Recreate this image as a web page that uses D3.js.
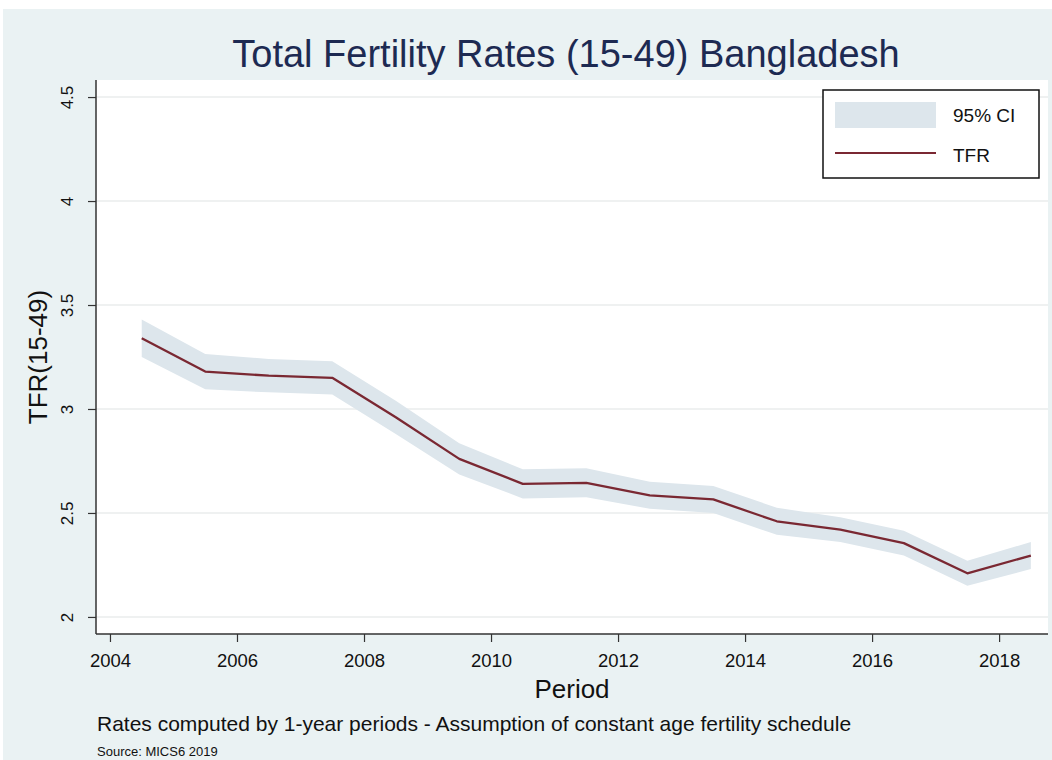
<!DOCTYPE html>
<html>
<head>
<meta charset="utf-8">
<script src="https://cdn.jsdelivr.net/npm/d3@7"></script>
<style>
  html, body { margin: 0; padding: 0; background: #ffffff; }
  svg { display: block; font-family: "Liberation Sans", Arial, Helvetica, sans-serif; }
</style>
</head>
<body>
<svg id="chart" width="1052" height="760"></svg>
<script>
// Period midpoints (1-year periods)
const periods = [2004.5, 2005.5, 2006.5, 2007.5, 2008.5, 2009.5, 2010.5, 2011.5,
                 2012.5, 2013.5, 2014.5, 2015.5, 2016.5, 2017.5, 2018.5];
// Total fertility rate estimates
const tfr   = [3.34, 3.18, 3.16, 3.15, 2.96, 2.76, 2.64, 2.645, 2.585, 2.565, 2.46, 2.42, 2.355, 2.21, 2.295];
// 95% confidence interval bounds
const ciLow = [3.25, 3.095, 3.08, 3.07, 2.88, 2.685, 2.57, 2.575, 2.52, 2.5, 2.395, 2.36, 2.295, 2.15, 2.23];
const ciHigh= [3.43, 3.265, 3.24, 3.23, 3.04, 2.835, 2.71, 2.715, 2.65, 2.63, 2.525, 2.48, 2.415, 2.27, 2.36];

const xTicks = [2004, 2006, 2008, 2010, 2012, 2014, 2016, 2018];
const yTicks = [2, 2.5, 3, 3.5, 4, 4.5];
const yTickLabels = ["2", "2.5", "3", "3.5", "4", "4.5"];

const svg = d3.select("#chart");
const W = 1052, H = 760;

// graph region background
svg.append("rect").attr("x", 3).attr("y", 9).attr("width", W - 3).attr("height", H - 9)
  .attr("fill", "#eaf2f3");

const plot = { left: 96, right: 1048, top: 80, bottom: 634 };

const x = d3.scaleLinear().domain([2003.78, 2018.77]).range([plot.left, plot.right]);
const y = d3.scaleLinear().domain([1.918, 4.582]).range([plot.bottom, plot.top]);

// plot region
svg.append("rect").attr("x", plot.left).attr("y", plot.top)
  .attr("width", plot.right - plot.left).attr("height", plot.bottom - plot.top)
  .attr("fill", "#ffffff");

// gridlines
svg.append("g").selectAll("line").data(yTicks).join("line")
  .attr("x1", plot.left).attr("x2", plot.right)
  .attr("y1", d => y(d)).attr("y2", d => y(d))
  .attr("stroke", "#eaeded").attr("stroke-width", 1.5);

const data = periods.map((p, i) => ({ p, v: tfr[i], lo: ciLow[i], hi: ciHigh[i] }));

// confidence band
svg.append("path").datum(data)
  .attr("d", d3.area().x(d => x(d.p)).y0(d => y(d.lo)).y1(d => y(d.hi)))
  .attr("fill", "#dde6ec");

// TFR line
svg.append("path").datum(data)
  .attr("d", d3.line().x(d => x(d.p)).y(d => y(d.v)))
  .attr("fill", "none").attr("stroke", "#7a2832").attr("stroke-width", 2.3)
  .attr("stroke-linejoin", "round");

// y axis
const yAxis = svg.append("g").attr("transform", `translate(${plot.left},0)`)
  .call(d3.axisLeft(y).tickValues(yTicks).tickFormat((d, i) => yTickLabels[i]).tickSize(8));
yAxis.select(".domain").attr("d", `M0,${plot.top}V${plot.bottom}`).attr("stroke", "#333").attr("stroke-width", 1.5);
yAxis.selectAll(".tick line").attr("stroke", "#333").attr("stroke-width", 1.2);
yAxis.selectAll(".tick text")
  .attr("font-size", 17).attr("fill", "#111")
  .attr("text-anchor", "middle")
  .attr("x", 0).attr("y", 0).attr("dy", "0.35em")
  .attr("transform", "translate(-29,0) rotate(-90)");

// x axis
const xAxis = svg.append("g").attr("transform", `translate(0,${plot.bottom})`)
  .call(d3.axisBottom(x).tickValues(xTicks).tickFormat(d3.format("d")).tickSize(8).tickPadding(12));
xAxis.select(".domain").attr("d", `M${plot.left},0H${plot.right}`).attr("stroke", "#333").attr("stroke-width", 1.5);
xAxis.selectAll(".tick line").attr("stroke", "#333").attr("stroke-width", 1.2);
xAxis.selectAll(".tick text").attr("font-size", 18.5).attr("fill", "#111");

// titles
svg.append("text").attr("x", 566).attr("y", 67).attr("text-anchor", "middle")
  .attr("font-size", 38).attr("fill", "#1d2a52").text("Total Fertility Rates (15-49) Bangladesh");

svg.append("text").attr("transform", `translate(47,357) rotate(-90)`)
  .attr("text-anchor", "middle").attr("font-size", 26).attr("fill", "#111").text("TFR(15-49)");

svg.append("text").attr("x", 572).attr("y", 698).attr("text-anchor", "middle")
  .attr("font-size", 26).attr("fill", "#111").text("Period");

svg.append("text").attr("x", 97).attr("y", 731)
  .attr("font-size", 21).attr("fill", "#111")
  .text("Rates computed by 1-year periods - Assumption of constant age fertility schedule");

svg.append("text").attr("x", 97).attr("y", 756)
  .attr("font-size", 13).attr("fill", "#111").text("Source: MICS6 2019");

// legend
const lg = svg.append("g");
lg.append("rect").attr("x", 823).attr("y", 90).attr("width", 216).attr("height", 88)
  .attr("fill", "#fff").attr("stroke", "#111").attr("stroke-width", 1.5);
lg.append("rect").attr("x", 835).attr("y", 102).attr("width", 101).attr("height", 26).attr("fill", "#dde6ec");
lg.append("line").attr("x1", 835).attr("x2", 936).attr("y1", 153).attr("y2", 153)
  .attr("stroke", "#7a2832").attr("stroke-width", 2);
lg.append("text").attr("x", 953).attr("y", 122).attr("font-size", 19).attr("fill", "#111").text("95% CI");
lg.append("text").attr("x", 953).attr("y", 162).attr("font-size", 19).attr("fill", "#111").text("TFR");
</script>
</body>
</html>
